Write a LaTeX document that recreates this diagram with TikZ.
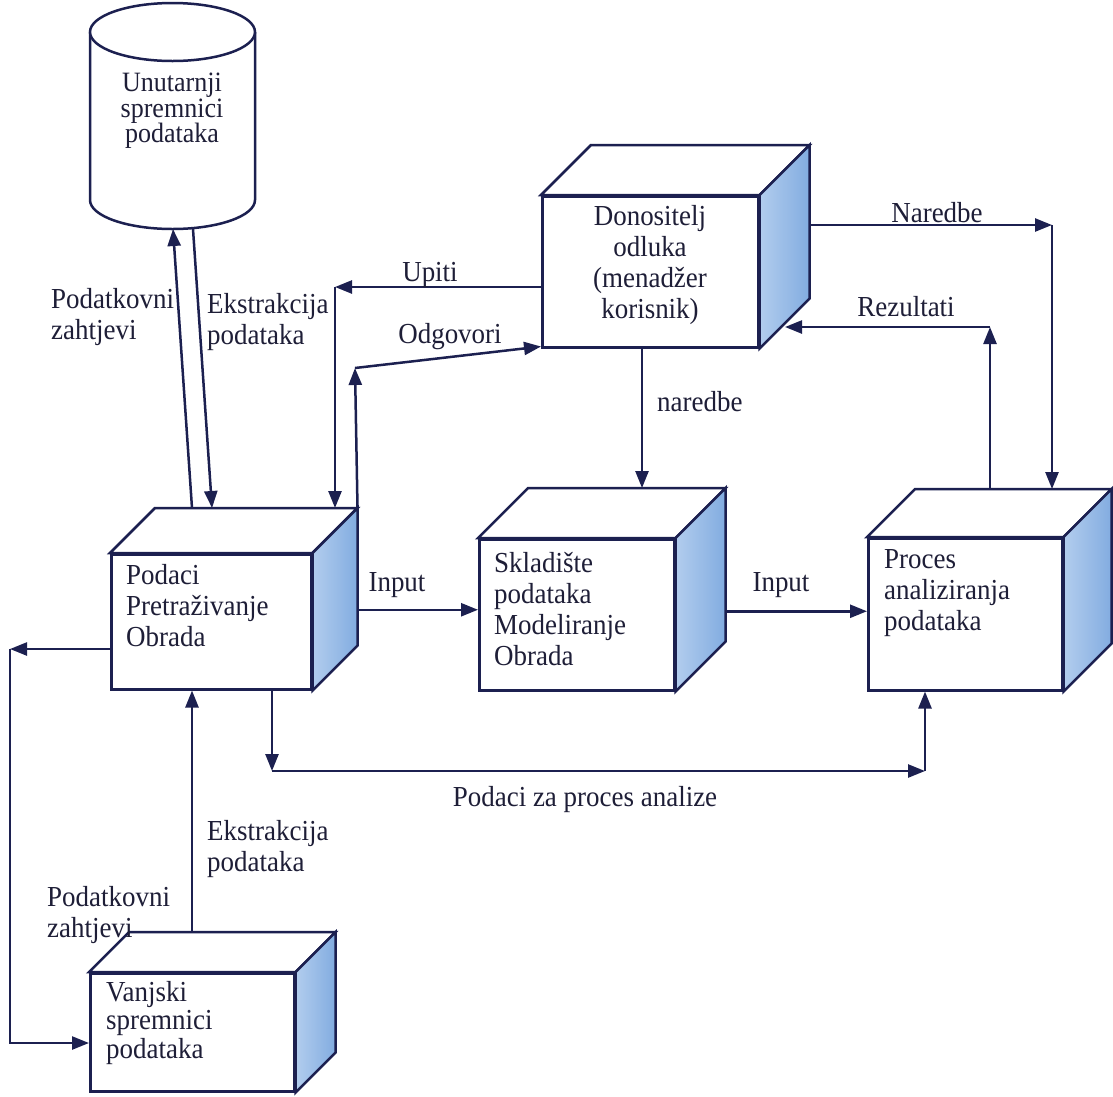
\documentclass[tikz,border=0pt]{standalone}
\usepackage{fontspec}
\setmainfont{Liberation Serif}[FakeStretch=0.93]
\usetikzlibrary{arrows.meta}
\definecolor{lc}{RGB}{28,32,80}
\definecolor{tc}{RGB}{30,30,55}
\definecolor{sideA}{RGB}{178,205,238}
\definecolor{sideB}{RGB}{130,172,224}
\tikzset{
  edge/.style={draw=lc, line width=2.5pt, line join=miter},
  front/.style={edge, fill=white, inner sep=0pt, anchor=north west},
  arr/.style={draw=lc, line width=2.5pt, -{Triangle[length=17pt,width=13pt]}},
  lbl/.style={text=tc, font=\fontsize{29}{31}\selectfont, inner sep=0pt},
}
\newcommand\mkcube[2]{%
  \draw[edge, fill=white] (#1.north west) -- ++(#2,-#2) coordinate (#1-bt)
     -- ([shift={(#2,-#2)}]#1.north east) coordinate (#1-br) -- (#1.north east) -- cycle;
  \draw[edge, left color=sideA, right color=sideB] (#1.north east) -- (#1-br)
     -- ([shift={(#2,-#2)}]#1.south east) -- (#1.south east) -- cycle;
}
\begin{document}
\begin{tikzpicture}[x=1pt, y=-1pt]
\useasboundingbox[fill=white] (0,0) rectangle (1113,1096);

% cylinder
\draw[edge, fill=white] (90,32) -- (90,200)
  arc[start angle=180, end angle=360, x radius=82.5pt, y radius=29pt] -- (255,32);
\draw[edge, fill=white] (172.5,32) ellipse [x radius=82.5pt, y radius=29pt];
\node[lbl, align=center, font=\fontsize{28}{25.5}\selectfont] (cyl) at (172,111) {Unutarnji\\spremnici\\podataka};
\coordinate (cylb) at (183,229);

% boxes
\node[front, minimum width=200, minimum height=135] (pod) at (110,553) {};
\mkcube{pod}{45}
\node[front, minimum width=195, minimum height=151] (skl) at (478,538) {};
\mkcube{skl}{50}
\node[front, minimum width=194, minimum height=152] (pro) at (867,537) {};
\mkcube{pro}{48}
\node[front, minimum width=216, minimum height=151] (don) at (541,195) {};
\mkcube{don}{50}
\node[front, minimum width=204, minimum height=118] (van) at (89,972) {};
\mkcube{van}{40}

% box texts
\node[lbl, anchor=west, align=left] (podt) at (126,606) {Podaci\\Pretraživanje\\Obrada};
\node[lbl, anchor=west, align=left] (sklt) at (494,609) {Skladište\\podataka\\Modeliranje\\Obrada};
\node[lbl, anchor=west, align=left] (prot) at (884,593) {Proces\\analiziranja\\podataka};
\node[lbl, align=center] (dont) at (650,265) {Donositelj\\odluka\\(menadžer\\korisnik)};
\node[lbl, anchor=west, align=left, font=\fontsize{29}{28.5}\selectfont] (vant) at (106,1023) {Vanjski\\spremnici\\podataka};

% cylinder <-> Podaci
\draw[arr] ([shift={(82,-45)}]pod.north west) -- ([xshift=-10pt]cylb);
\draw[arr] ([xshift=10pt]cylb) -- ([shift={(102,-45)}]pod.north west);

% Upiti
\coordinate (upc) at (335,287);
\draw[arr] (don.west |- upc) -- (upc);
\draw[arr] (upc) -- (upc |- pod-bt);

% Odgovori
\coordinate (odc) at (355,368);
\draw[arr] (pod-br) -- (odc);
\draw[arr] (odc) -- ([yshift=2pt]don.south west);

% naredbe
\coordinate (ndc) at (642,346);
\draw[arr] (ndc) -- (ndc |- skl-bt);

% Naredbe
\coordinate (nrc) at (1052,225);
\draw[arr] ([yshift=-80pt]don-br) -- (nrc);
\draw[arr] (nrc) -- (nrc |- pro-bt);

% Rezultati
\coordinate (rzc) at (990,327);
\coordinate (rzt) at (785,327);
\draw[arr] (rzc |- pro-bt) -- (rzc);
\draw[arr] (rzc) -- (rzt);

% Input
\coordinate (in1) at ([yshift=5pt]skl.west);
\draw[arr] (pod-br |- in1) -- (in1);
\coordinate (in2) at ([yshift=3pt]pro.west);
\draw[arr] (skl-br |- in2) -- (in2);

% Podaci za proces analize
\coordinate (blc) at (272,771);
\coordinate (brc) at (925,771);
\draw[arr] (blc |- pod.south) -- (blc);
\draw[arr] (blc) -- (brc);
\draw[arr] (brc) -- (brc |- pro.south);

% left loop
\coordinate (llc) at (10,649);
\coordinate (lbc) at (10,1043);
\draw[arr] (pod.west |- llc) -- (llc);
\draw[arr] (llc) -- (lbc) -- (van.west |- lbc);

% Vanjski -> Podaci
\path (van-bt) ++(63,0) coordinate (vu);
\draw[arr] (vu) -- (vu |- pod.south);

% labels
\node[lbl, anchor=west, align=left] (l1) at (51,317) {Podatkovni\\zahtjevi};
\node[lbl, anchor=west, align=left] (l2) at (207,322) {Ekstrakcija\\podataka};
\node[lbl] (l3) at (430,275) {Upiti};
\node[lbl] (l4) at (450,337) {Odgovori};
\node[lbl, anchor=west] (l5) at (657,402) {naredbe};
\node[lbl] (l6) at (937,213) {Naredbe};
\node[lbl] (l7) at (906,307) {Rezultati};
\node[lbl] (l8) at (397,585) {Input};
\node[lbl] (l9) at (781,585) {Input};
\node[lbl] (l10) at (585,800) {Podaci za proces analize};
\node[lbl, anchor=west, align=left] (l11) at (207,849) {Ekstrakcija\\podataka};
\node[lbl, anchor=west, align=left] (l12) at (47,915) {Podatkovni\\zahtjevi};
\end{tikzpicture}
\end{document}
